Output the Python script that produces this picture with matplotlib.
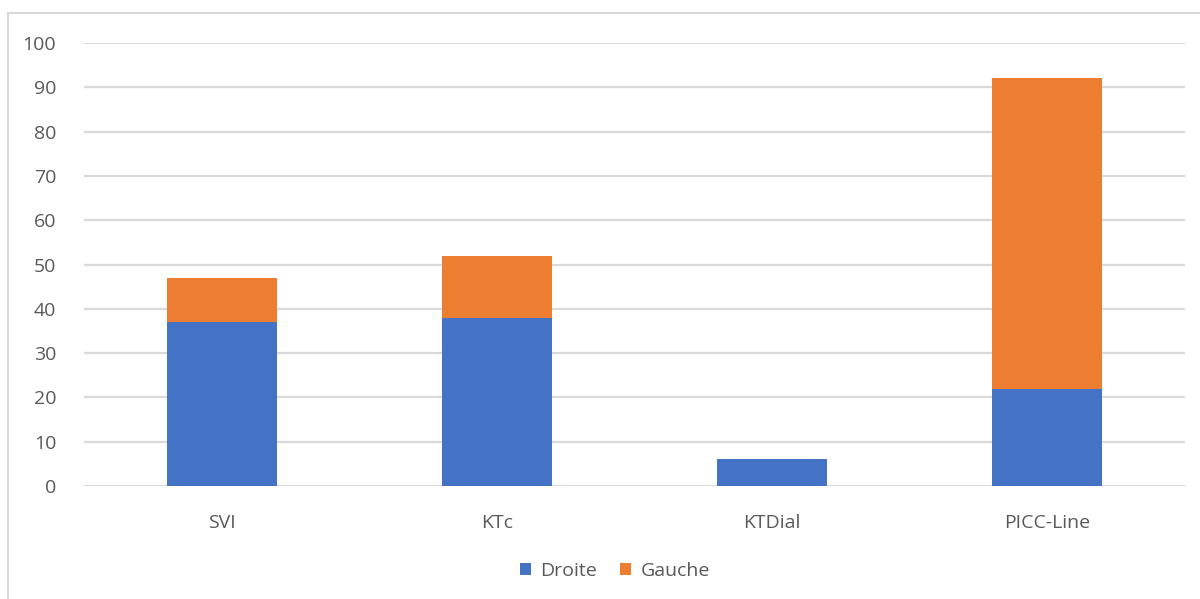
import matplotlib
matplotlib.use("Agg")
import matplotlib.pyplot as plt
from matplotlib.patches import Rectangle

categories = ["SVI", "KTc", "KTDial", "PICC-Line"]
droite = [37, 38, 6, 22]
gauche = [10, 14, 0, 70]
yticks = [0, 10, 20, 30, 40, 50, 60, 70, 80, 90, 100]

plt.rcParams['font.family'] = ['Open Sans', 'DejaVu Sans']
txt = '#595959'
grid = '#D9D9D9'

fig = plt.figure(figsize=(12, 5.99), dpi=100)
fig.patches.append(Rectangle((8/1200, -0.1), 1.2, 1 - 13/599 + 0.1, transform=fig.transFigure,
                             fill=False, edgecolor=grid, linewidth=1.5, zorder=0))
ax = fig.add_axes([84/1200, 1 - 486/599, (1185-84)/1200, (486-43)/599])

x = list(range(len(categories)))
ax.bar(x, droite, width=0.4, color='#4472C4', label='Droite', zorder=3)
ax.bar(x, gauche, width=0.4, bottom=droite, color='#ED7D31', label='Gauche', zorder=3)

ax.set_xlim(-0.5, 3.5)
ax.set_ylim(0, 100)
ax.set_yticks(yticks)
ax.set_xticks(x)
ax.set_xticklabels(categories)
ax.yaxis.grid(True, color=grid, linewidth=1.6, zorder=0)
ax.set_axisbelow(True)
for s in ax.spines.values():
    s.set_visible(False)
ax.tick_params(axis='both', length=0, labelsize=14, colors=txt)
ax.tick_params(axis='y', pad=20)
ax.tick_params(axis='x', pad=20)

fig.legend(loc='center', bbox_to_anchor=(615/1200, 1 - 571/599), ncol=2, frameon=False,
           fontsize=14, labelcolor=txt, handlelength=0.55, handleheight=0.55,
           handletextpad=0.5, columnspacing=1.2)

fig.savefig('out.png', dpi=100)
